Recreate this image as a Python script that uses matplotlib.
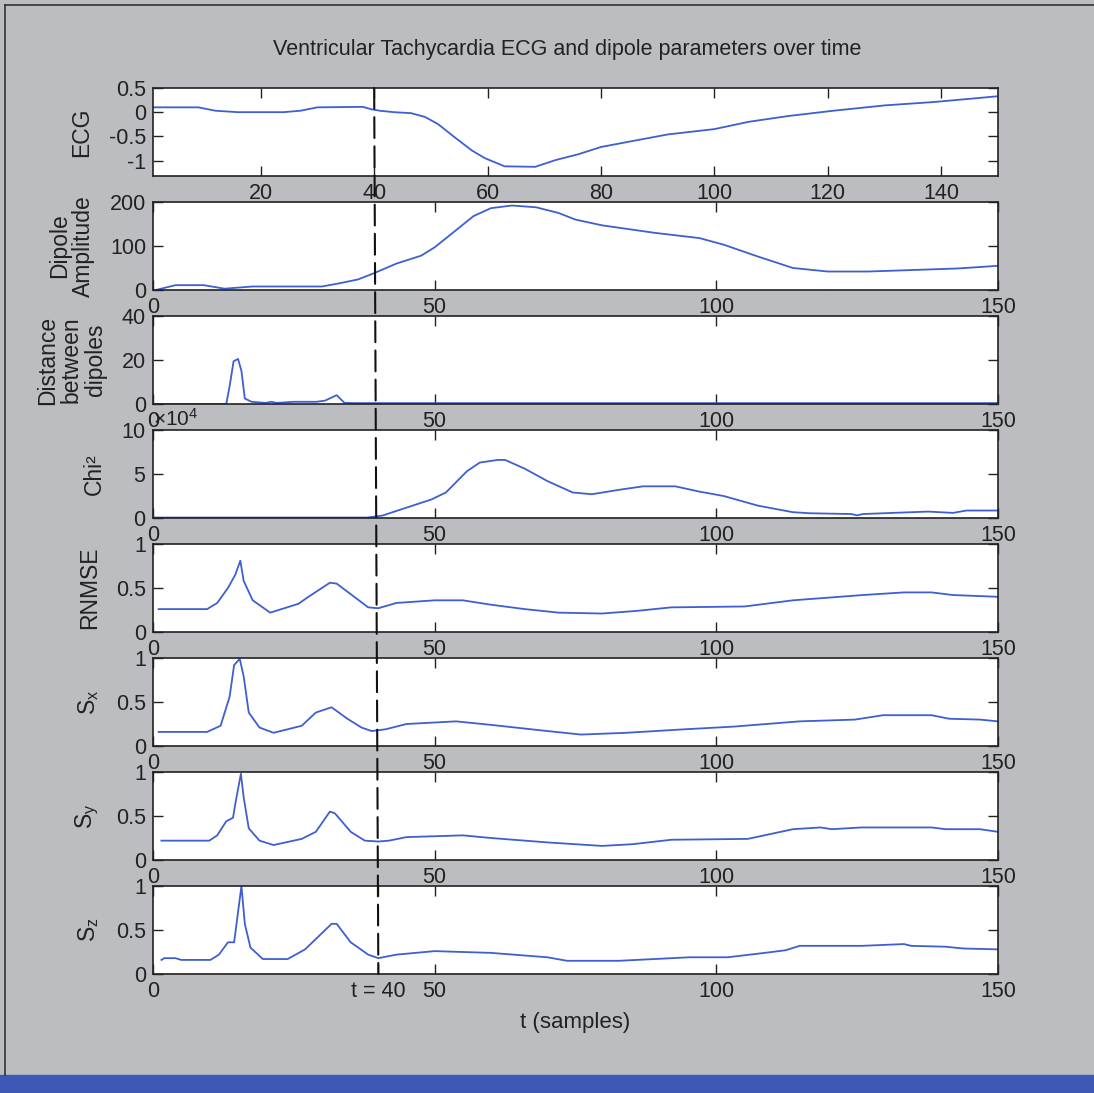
import matplotlib
matplotlib.use("Agg")
import matplotlib.pyplot as plt
from matplotlib.patches import ConnectionPatch, Rectangle
from matplotlib.lines import Line2D
from matplotlib.ticker import ScalarFormatter

plt.rcParams['font.family'] = ['Liberation Sans', 'DejaVu Sans']
plt.rcParams['mathtext.fontset'] = 'custom'
plt.rcParams['mathtext.rm'] = 'Liberation Sans'
plt.rcParams['mathtext.it'] = 'Liberation Sans'

# data (t in samples)
ecg_t = [1, 9, 12, 16, 24, 27, 30, 38, 39.5, 41, 43.5, 46.5, 49, 51.3, 54.2, 57.2, 59.5, 63,
         68.4, 72, 76, 80, 85.4, 91.8, 100, 106, 113, 121, 130, 138.7, 146.3, 150]
ecg_v = [0.1, 0.1, 0.03, 0.0, 0.0, 0.03, 0.1, 0.11, 0.06, 0.03, 0.0, -0.02, -0.1, -0.25,
         -0.52, -0.79, -0.95, -1.12, -1.13, -0.99, -0.87, -0.72, -0.6, -0.46, -0.35, -0.2,
         -0.08, 0.03, 0.14, 0.21, 0.29, 0.33]

amp_t = [0.5, 4, 9, 12.7, 17.7, 30, 33, 36.4, 39.2, 43.2, 47.6, 50, 53.8, 56.9, 60, 63.7, 68,
         72, 75, 79.7, 89, 97, 101.3, 107.4, 113.6, 119.8, 127, 143, 150]
amp_v = [0, 11, 11, 3, 8, 8, 15, 24, 38, 60, 78, 97, 136, 168, 186, 192, 188, 175, 160, 147,
         130, 118, 103, 76, 50, 42, 42, 49, 55]

dist_t = [0, 13, 13.6, 14.3, 15.1, 15.7, 16.3, 17.5, 20, 21, 22, 25, 29, 30.5, 32.6, 34, 36, 150]
dist_v = [0, 0, 8, 19.4, 20.5, 15, 2.5, 1, 0.5, 1, 0.5, 1, 1, 1.5, 4, 0.5, 0.4, 0.4]

chi_t = [0, 38, 40.7, 44.4, 49.4, 52, 55.7, 58, 61.2, 62.5, 66, 70, 74.5, 77.9, 82.7, 87, 92.7,
         97, 101.3, 107.4, 113.6, 116.6, 124, 125, 126, 137.6, 142, 144.4, 150]
chi_v = [500, 500, 2700, 10500, 21000, 29000, 53000, 63000, 66000, 66000, 56000, 42000, 29000,
         27000, 32000, 36000, 36000, 30000, 25000, 14000, 6600, 5400, 4500, 3000, 4500, 7300,
         5800, 8500, 8500]

rnmse_t = [1, 9.6, 11.4, 13.3, 14.6, 15.5, 16.1, 17.7, 20.8, 25.8, 27.6, 31.4, 32.6, 35.1, 38.2,
           40, 43.2, 50, 55, 60, 66, 72, 79.7, 85.9, 92, 105, 113.6, 126, 133.3, 138.2, 142, 150]
rnmse_v = [0.26, 0.26, 0.33, 0.5, 0.65, 0.81, 0.58, 0.36, 0.22, 0.32, 0.4, 0.56, 0.55, 0.43,
           0.28, 0.27, 0.33, 0.36, 0.36, 0.31, 0.26, 0.22, 0.21, 0.24, 0.28, 0.29, 0.36, 0.42,
           0.45, 0.45, 0.42, 0.4]

sx_t = [1, 9.6, 12, 13.6, 14.4, 15.4, 16.1, 17, 18.9, 21.4, 26.4, 28.9, 31.7, 34.5, 37, 38.8,
        41.3, 45, 53.8, 60, 70, 76, 84, 94.4, 103, 114.8, 124.6, 129.6, 138.2, 141.3, 146.8, 150]
sx_v = [0.16, 0.16, 0.23, 0.56, 0.92, 0.99, 0.79, 0.38, 0.21, 0.15, 0.23, 0.38, 0.44, 0.31,
        0.21, 0.17, 0.19, 0.25, 0.28, 0.24, 0.17, 0.13, 0.15, 0.19, 0.22, 0.28, 0.3, 0.35,
        0.35, 0.31, 0.3, 0.28]

sy_t = [1.5, 10, 11.4, 13, 14.2, 14.7, 15.6, 16.1, 17, 18.9, 21.4, 26.4, 28.9, 31.4, 32.3, 35.1,
        37.6, 40, 41.9, 45, 55, 60, 70, 79.7, 85.2, 92, 105.6, 113.6, 118.5, 120.5, 125.8,
        138.2, 140.7, 146.8, 150]
sy_v = [0.22, 0.22, 0.28, 0.44, 0.48, 0.67, 0.98, 0.71, 0.36, 0.22, 0.17, 0.24, 0.32, 0.55,
        0.53, 0.32, 0.22, 0.21, 0.22, 0.26, 0.28, 0.25, 0.2, 0.16, 0.18, 0.23, 0.24, 0.35,
        0.37, 0.35, 0.37, 0.37, 0.35, 0.35, 0.32]

sz_t = [1.5, 2, 4, 5, 10.2, 11.7, 13.3, 14.4, 15.7, 16.3, 17.3, 19.5, 23.9, 27, 31.7, 32.6,
        35.1, 38.2, 40, 43.2, 50, 60, 70, 73.5, 82.7, 89, 95.2, 102, 108.6, 112.3, 114.8,
        125.8, 133.3, 134.6, 140.7, 143.8, 150]
sz_v = [0.16, 0.18, 0.18, 0.16, 0.16, 0.22, 0.36, 0.36, 1.0, 0.57, 0.3, 0.17, 0.17, 0.28,
        0.57, 0.57, 0.36, 0.22, 0.18, 0.22, 0.26, 0.24, 0.19, 0.15, 0.15, 0.17, 0.19, 0.19,
        0.24, 0.27, 0.32, 0.32, 0.34, 0.32, 0.31, 0.29, 0.28]

ylabels = ['ECG', 'Dipole\nAmplitude', 'Distance\nbetween\ndipoles', 'Chi²', 'RNMSE',
           r'S$_{\mathrm{x}}$', r'S$_{\mathrm{y}}$', r'S$_{\mathrm{z}}$']
ylims = [(-1.32, 0.5), (0, 200), (0, 40), (0, 100000), (0, 1), (0, 1), (0, 1), (0, 1)]
yticks = [[-1, -0.5, 0, 0.5], [0, 100, 200], [0, 20, 40], [0, 50000, 100000],
          [0, 0.5, 1], [0, 0.5, 1], [0, 0.5, 1], [0, 0.5, 1]]
ytick_labels = [['-1', '-0.5', '0', '0.5'], ['0', '100', '200'], ['0', '20', '40'], None,
                ['0', '0.5', '1'], ['0', '0.5', '1'], ['0', '0.5', '1'], ['0', '0.5', '1']]
ecg_xticks = [20, 40, 60, 80, 100, 120, 140]
xticks = [0, 50, 100, 150]
last_xticks = [0, 40, 50, 100, 150]
last_xtick_labels = ['0', 't = 40', '50', '100', '150']
t_mark = 40

series = [(ecg_t, ecg_v), (amp_t, amp_v), (dist_t, dist_v), (chi_t, chi_v),
          (rnmse_t, rnmse_v), (sx_t, sx_v), (sy_t, sy_v), (sz_t, sz_v)]

bg = '#bcbdc0'
line_c = '#3d5fd0'
ink = '#222222'

W, H = 1094, 1093
fig = plt.figure(figsize=(W/100, H/100), dpi=100, facecolor=bg)

axes = []
for i, (t, v) in enumerate(series):
    top = 88 + 114*i
    ax = fig.add_axes([153/W, 1 - (top+88)/H, 845/W, 88/H])
    ax.plot(t, v, color=line_c, lw=1.3)
    ax.set_ylim(ylims[i])
    if i == 0:
        ax.set_xlim(1, 150)
        ax.set_xticks(ecg_xticks)
    else:
        ax.set_xlim(0, 150)
        ax.set_xticks(xticks)
    ax.set_yticks(yticks[i])
    if ytick_labels[i] is not None:
        ax.set_yticklabels(ytick_labels[i])
    ax.tick_params(direction='in', top=True, right=True, length=7, width=1,
                   labelsize=15.5, pad=5, colors=ink)
    for s in ax.spines.values():
        s.set_linewidth(1.2)
        s.set_color(ink)
    ax.set_ylabel(ylabels[i], fontsize=16.5, color=ink, labelpad=11, linespacing=1.05)
    axes.append(ax)

# chi2 axis in units of 10^4
fmt = ScalarFormatter(useMathText=True)
fmt.set_powerlimits((4, 4))
axes[3].yaxis.set_major_formatter(fmt)
axes[3].yaxis.get_offset_text().set_fontsize(15)

axes[7].set_xticks(last_xticks)
axes[7].set_xticklabels(last_xtick_labels)
axes[7].set_xlabel('t (samples)', fontsize=16, color=ink, labelpad=7)

axes[0].set_title('Ventricular Tachycardia ECG and dipole parameters over time',
                  fontsize=15.5, color=ink, pad=24, x=0.49)

# dashed marker at t = 40 through all panels
con = ConnectionPatch(xyA=(t_mark, ylims[0][1]), coordsA=axes[0].transData,
                      xyB=(t_mark, 0), coordsB=axes[7].transData,
                      color='#111111', lw=1.5, linestyle=(0, (10, 4)), zorder=10)
fig.add_artist(con)

# window frame bits
fig.add_artist(Line2D([5/W, 5/W], [18/H, 1 - 5/H], color='#333333', lw=1.2))
fig.add_artist(Line2D([5/W, 1], [1 - 5/H, 1 - 5/H], color='#333333', lw=1.2))
fig.add_artist(Rectangle((0, 0), 1, 18/H, transform=fig.transFigure, color='#3d58b5'))

fig.savefig('out.png', dpi=100, facecolor=bg)
